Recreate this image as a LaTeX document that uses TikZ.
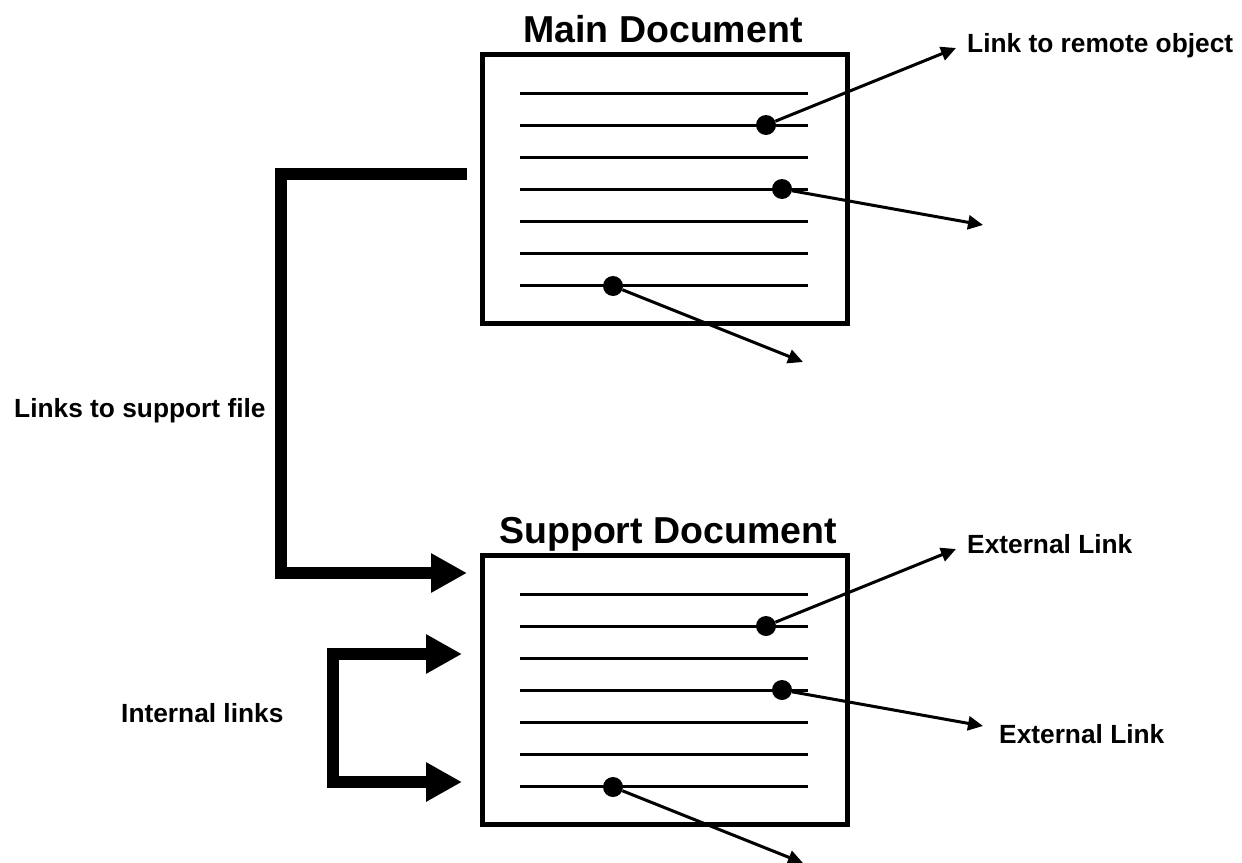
\documentclass[tikz,border=0pt]{standalone}
\usepackage{fontspec}
\setmainfont{Liberation Sans}
\usetikzlibrary{arrows.meta,calc}
\begin{document}
\begin{tikzpicture}[x=1pt,y=-1pt,
  docbox/.style={draw, line width=5pt, minimum width=365pt, minimum height=269pt, inner sep=0pt},
  textline/.style={line width=3pt},
  dot/.style={circle, fill=black, minimum size=20pt, inner sep=0pt},
  thinarrow/.style={line width=3pt, -{Triangle[length=15pt,width=14pt]}},
  thickarrow/.style={line width=12pt, line join=miter, -{Triangle[length=36pt,width=37pt]}},
  bracketarrow/.style={line width=12pt, line join=miter, {Triangle[length=36pt,width=37pt]}-{Triangle[length=36pt,width=37pt]}},
  title/.style={font=\bfseries\fontsize{37.5}{40}\selectfont, inner sep=0pt, anchor=base},
  label/.style={font=\bfseries\fontsize{26.3}{30}\selectfont, inner sep=0pt, anchor=base west}]
\useasboundingbox (0,0) rectangle (1242,862);

% documents
\node[docbox] (main) at (665,189) {};
\node[docbox] (supp) at (665,690) {};

% text lines
\foreach \k in {-3,...,3}{
  \draw[textline] ($(main.center)+(-145,32*\k)$) -- ++(288,0);
  \draw[textline] ($(supp.center)+(-145,32*\k)$) -- ++(288,0);
}

% titles
\node[title] (maintitle) at (663,42) {Main Document};
\node[title] (supptitle) at (668,543) {Support Document};

% main dots and links
\node[dot] (m1) at (766,125) {};
\node[dot] (m2) at (782,189) {};
\node[dot] (m3) at (613,286) {};
\coordinate (mt1) at (956,48);
\coordinate (mt2) at (983,225);
\coordinate (mt3) at (803,362);
\draw[thinarrow] (m1) -- (mt1);
\draw[thinarrow] (m2) -- (mt2);
\draw[thinarrow] (m3) -- (mt3);
\node[label] (lremote) at (967,52) {Link to remote object};

% support dots and links
\node[dot] (s1) at (766,626) {};
\node[dot] (s2) at (782,690) {};
\node[dot] (s3) at (613,787) {};
\coordinate (st1) at (956,549);
\coordinate (st2) at (983,726);
\coordinate (st3) at (803,863);
\draw[thinarrow] (s1) -- (st1);
\draw[thinarrow] (s2) -- (st2);
\draw[thinarrow] (s3) -- (st3);
\node[label] (lext1) at (967,553) {External Link};
\node[label] (lext2) at (999,743) {External Link};

% link to support file
\coordinate (fromMain) at (467,174);
\coordinate (toSupp) at (467,573);
\draw[thickarrow] (fromMain) -- (281,174) -- (281,573) -- (toSupp);
\node[label] (lsupport) at (14,417) {Links to support file};

% internal links
\coordinate (int1) at (462,654);
\coordinate (int2) at (462,782);
\draw[bracketarrow] (int1) -- (333,654) -- (333,782) -- (int2);
\node[label] (linternal) at (121,722) {Internal links};
\end{tikzpicture}
\end{document}
